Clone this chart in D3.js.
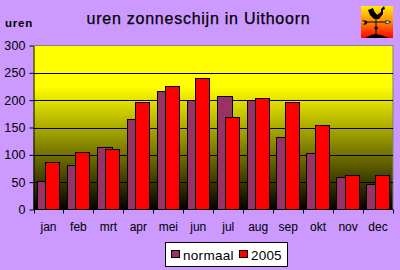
<!DOCTYPE html>
<html><head><meta charset="utf-8">
<script src="https://cdnjs.cloudflare.com/ajax/libs/d3/7.8.5/d3.min.js"></script>
<style>html,body{margin:0;padding:0;background:#cc99ff;overflow:hidden}svg{display:block}text{font-family:"Liberation Sans",Arial,sans-serif;fill:#000}</style>
</head><body><svg id="c" width="400" height="270"></svg>
<script>
const months=["jan","feb","mrt","apr","mei","jun","jul","aug","sep","okt","nov","dec"];
const normaal=[53,81,114,166,217,200,208,200,133,103,59,46];
const y2005=[86,105,110,197,226,240,169,204,197,154,63,63];
const yTicks=[0,50,100,150,200,250,300];
const title="uren zonneschijn in Uithoorn";
const yLabel="uren";
const legendNames=["normaal","2005"];
const colors=["#993366","#ff0000"];

const svg=d3.select("#c");
const L=33.5,R=393,T=45.5,B=209.5;
const x=d3.scaleBand().domain(months).range([L,R]);
const y=d3.scaleLinear().domain([0,300]).range([B,T]);
const defs=svg.append("defs");
const g1=defs.append("linearGradient").attr("id","plotG").attr("x1",0).attr("x2",0).attr("y1",0).attr("y2",1);
[[0,"#ffff00"],[.25,"#ffff00"],[1,"#000000"]].forEach(s=>g1.append("stop").attr("offset",s[0]).attr("stop-color",s[1]));
const g2=defs.append("linearGradient").attr("id","iconG").attr("x1",0).attr("x2",0).attr("y1",0).attr("y2",1);
[[0,"#ffee00"],[.5,"#ff8800"],[1,"#ff0000"]].forEach(s=>g2.append("stop").attr("offset",s[0]).attr("stop-color",s[1]));

svg.append("rect").attr("x",L).attr("y",T).attr("width",R-L).attr("height",B-T).attr("fill","url(#plotG)");
svg.append("path").attr("d",`M${L},${T}H${R}V${B}`).attr("fill","none").attr("stroke","#808080");
svg.append("g").selectAll("line").data(yTicks.filter(d=>d>0&&d<300)).join("line")
 .attr("x1",L).attr("x2",R).attr("y1",d=>Math.round(y(d))+.5).attr("y2",d=>Math.round(y(d))+.5).attr("stroke","#000");

const bw=x.bandwidth();
const drawBars=(vals,off,w,c)=>svg.append("g").selectAll("rect").data(vals).join("rect")
 .attr("x",(d,i)=>Math.round(x(months[i])+bw*off)+.5)
 .attr("width",Math.round(bw*w))
 .attr("y",d=>Math.round(y(d))+.5)
 .attr("height",d=>B-Math.round(y(d))-.5)
 .attr("fill",c).attr("stroke","#000");
drawBars(normaal,.11,.5,colors[0]);
drawBars(y2005,.4,.47,colors[1]);

const ax=svg.append("g").attr("transform",`translate(${L},0)`).call(d3.axisLeft(y).tickValues(yTicks).tickSize(4).tickPadding(2).tickSizeOuter(0));
ax.selectAll("path,line").attr("stroke","#000");
ax.selectAll("text").attr("font-size",12.5).style("font-family","'Liberation Sans'").style("letter-spacing","0.1px").attr("x",-8);
const xa=svg.append("g").attr("transform",`translate(0,${B})`).call(d3.axisBottom(x).tickSize(0).tickPadding(13));
xa.select("path").remove();
xa.selectAll("text").attr("font-size",12).style("font-family","'Liberation Sans'");
const edges=months.map(m=>x(m)).concat([R]);
svg.append("g").selectAll("line").data(edges).join("line").attr("x1",d=>Math.round(d)+.5).attr("x2",d=>Math.round(d)+.5).attr("y1",B).attr("y2",B+4).attr("stroke","#000");
svg.append("path").attr("d",`M${L},${B}H${R}`).attr("stroke","#000");

svg.append("text").attr("x",198.5).attr("y",24).attr("text-anchor","middle").attr("font-size",16).style("letter-spacing","0.75px").style("stroke","#000").style("stroke-width",.25).text(title);
svg.append("text").attr("x",5).attr("y",27).attr("font-size",11.5).attr("font-weight","bold").style("letter-spacing","0.8px").text(yLabel);

// legend
svg.append("rect").attr("x",165.5).attr("y",242.5).attr("width",122).attr("height",24).attr("fill","#fff").attr("stroke","#000");
const lx=[171.5,239.5], tx=[183,251];
legendNames.forEach((n,i)=>{
 svg.append("rect").attr("x",lx[i]).attr("y",250.5).attr("width",8).attr("height",7).attr("fill",colors[i]).attr("stroke","#000");
 svg.append("text").attr("x",tx[i]).attr("y",259.5).attr("font-size",13.5).style("letter-spacing",i?"0.2px":"0.3px").text(n);
});

// weather vane icon
const ic=svg.append("g").attr("transform","translate(361,6)");
ic.append("rect").attr("width",32).attr("height",32).attr("fill","url(#iconG)");
ic.append("path").attr("d","M6,16L28,16M15,8V30").attr("stroke","#000").attr("fill","none");
ic.append("path").attr("d","M7,4L12,2L13,5L16,9L20,6L20,3L23,0L24,3L22,4L22,8L18,13L13,13L9,9Z").attr("fill","#000");
ic.append("path").attr("d","M1,14L6,15L6,18L2,19L4,16.5Z").attr("fill","#000");
ic.append("path").attr("d","M25,14.5L30,16L25,18Z").attr("fill","#fff").attr("stroke","#000").attr("stroke-width",.7);
ic.append("path").attr("d","M15,20L17.5,22L15,24L13,22Z").attr("fill","#000");
ic.append("path").attr("d","M4,32L10,29L15,28L20,29L28,32Z").attr("fill","#000");
</script></body></html>
